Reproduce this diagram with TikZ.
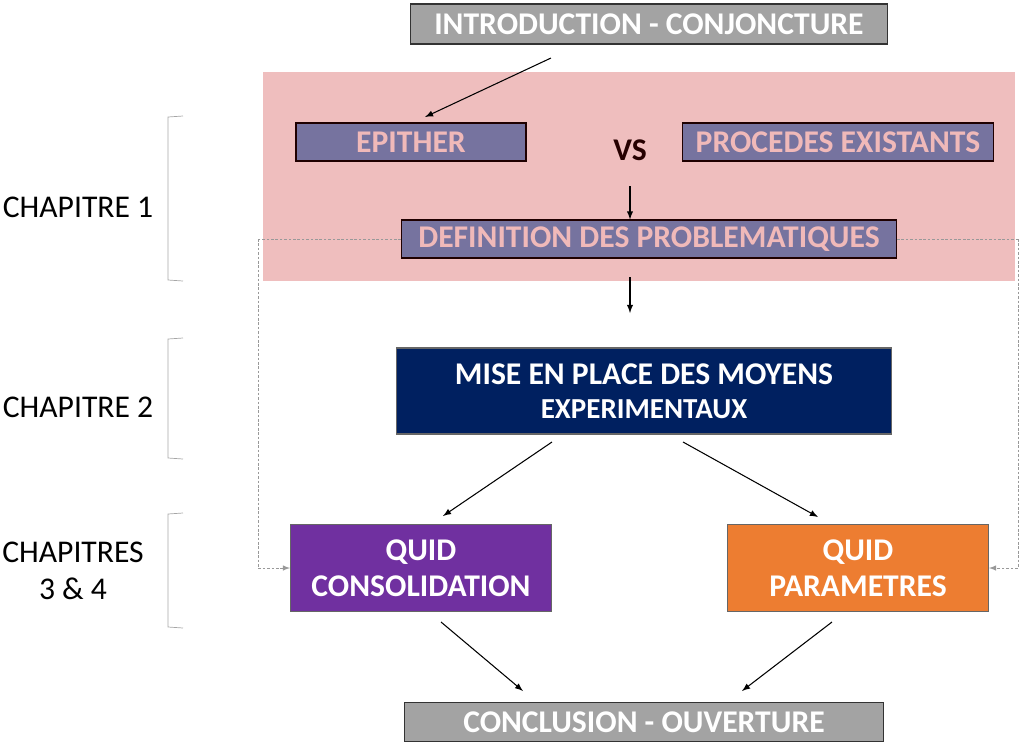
\documentclass[tikz,border=0pt]{standalone}
\usepackage{fontspec}
\setmainfont{Carlito}
\usetikzlibrary{arrows}

\definecolor{rosebg}{HTML}{EFBEBE}
\definecolor{slate}{HTML}{76739F}
\definecolor{rosetxt}{HTML}{F0B9B9}
\definecolor{navy}{HTML}{002060}
\definecolor{violet}{HTML}{7030A0}
\definecolor{orange}{HTML}{ED7D31}
\definecolor{greyfill}{HTML}{A3A3A3}

\tikzset{
  greybox/.style={draw=black!80,semithick,fill=greyfill,text=white,font=\bfseries\fontsize{18}{20}\selectfont,inner sep=0pt},
  slatebox/.style={draw=black!70!red!40!black,semithick,fill=slate,text=rosetxt,font=\bfseries\fontsize{18}{20}\selectfont,inner sep=0pt},
  bigbox/.style={draw=black!60,semithick,text=white,font=\bfseries\fontsize{18}{20.5}\selectfont,inner sep=0pt,align=center},
  chapter/.style={font=\fontsize{18}{21}\selectfont,align=center},
  link/.style={->,>=latex,semithick},
  dashlink/.style={->,>=latex,dash pattern=on 1.5pt off 1pt,gray!80,thin}
}

\begin{document}
\begin{tikzpicture}[x=0.02cm,y=-0.02cm]
  \useasboundingbox (0,0) rectangle (1019,745);
  \fill [rosebg] (263,72) rectangle (1015,281);

  \node [greybox,minimum width=9.56cm,minimum height=0.8cm] (intro) at (649,24) {INTRODUCTION - CONJONCTURE};
  \node [slatebox,minimum width=4.6cm,minimum height=0.76cm] (epither) at (411,142) {EPITHER};
  \node [font=\bfseries\fontsize{18}{20}\selectfont,text=black!85!red] (vs) at (630,150) {VS};
  \node [slatebox,minimum width=6.22cm,minimum height=0.76cm] (procedes) at (838,142) {PROCEDES EXISTANTS};
  \node [slatebox,minimum width=9.9cm,minimum height=0.76cm] (definition) at (649,239) {DEFINITION DES PROBLEMATIQUES};
  \node [bigbox,fill=navy,minimum width=9.9cm,minimum height=1.72cm] (moyens) at (644,391)
    {MISE EN PLACE DES MOYENS\\[-1pt]{\fontsize{16.5}{18}\selectfont EXPERIMENTAUX}};
  \node [bigbox,fill=violet,minimum width=5.22cm,minimum height=1.74cm] (consolidation) at (421,568) {QUID\\CONSOLIDATION};
  \node [bigbox,fill=orange,minimum width=5.22cm,minimum height=1.74cm] (parametres) at (858,568) {QUID\\PARAMETRES};
  \node [greybox,minimum width=9.58cm,minimum height=0.78cm] (conclusion) at (644,722) {CONCLUSION - OUVERTURE};

  % chapitres
  \node [chapter] (ch1) at (78,207) {CHAPITRE 1};
  \node [chapter] (ch2) at (78,407) {CHAPITRE 2};
  \node [chapter] (ch3) at (73,571) {CHAPITRES\\3 \& 4};
  \draw [gray!70] (183,116) -- (168,117) -- (168,280) -- (183,281);
  \draw [gray!70] (183,338) -- (168,339) -- (168,458) -- (183,459);
  \draw [gray!70] (183,513) -- (168,514) -- (168,627) -- (183,628);

  % fleches
  \coordinate (a1) at (551,58);
  \draw [link] (a1) -- (425,117);
  \coordinate (a2) at (630,186);
  \draw [link] (a2) -- (definition.north -| a2);
  \coordinate (a3) at (630,277);
  \draw [link] (a3) -- (630,313);
  \draw [link] (552,442) -- (443,516);
  \draw [link] (683,442) -- (818,517);
  \draw [link] (441,622) -- (523,691);
  \draw [link] (832,622) -- (742,691);

  % liens pointilles
  \coordinate (l1) at (258,239);
  \coordinate (r1) at (1018,239);
  \draw [gray!80,dash pattern=on 1.5pt off 1pt,thin] (definition.west) -- (l1);
  \draw [gray!80,dash pattern=on 1.5pt off 1pt,thin] (definition.east) -- (r1);
  \draw [dashlink] (l1) |- (consolidation.west);
  \draw [dashlink] (r1) |- (parametres.east);
\end{tikzpicture}
\end{document}
